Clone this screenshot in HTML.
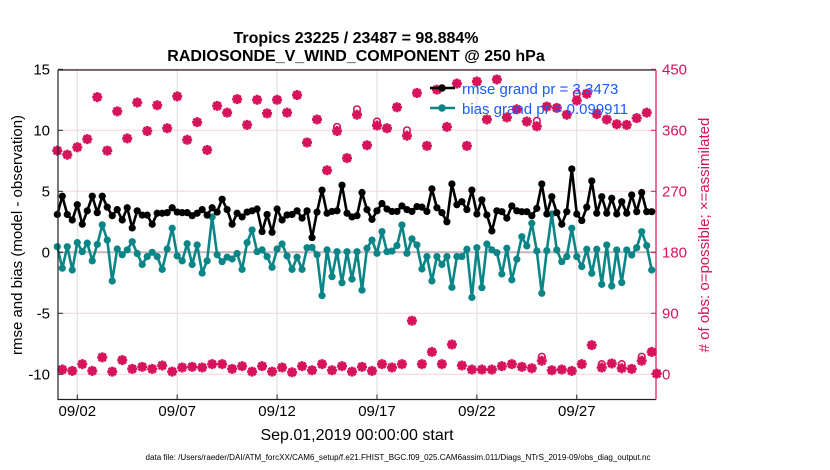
<!DOCTYPE html>
<html><head><meta charset="utf-8">
<style>
html,body{margin:0;padding:0;background:#fff;}
svg{display:block;font-family:"Liberation Sans",Arial,sans-serif;}
</style></head>
<body>
<svg id="chart" width="830" height="470" viewBox="0 0 830 470" xmlns="http://www.w3.org/2000/svg">
  <rect width="830" height="470" fill="#fff"/>
  <g id="grid"></g>
  <g id="series"></g>
  <g id="axes"></g>
  <text x="356" y="43" text-anchor="middle" font-size="16" font-weight="bold">Tropics 23225 / 23487 = 98.884%</text>
  <text x="356" y="61" text-anchor="middle" font-size="16" font-weight="bold">RADIOSONDE_V_WIND_COMPONENT @ 250 hPa</text>
  <text transform="translate(22,235) rotate(-90)" text-anchor="middle" font-size="15">rmse and bias (model - observation)</text>
  <text transform="translate(709,235) rotate(-90)" text-anchor="middle" font-size="15" fill="#d6135b"># of obs: o=possible; ×=assimilated</text>
  <text x="357" y="440" text-anchor="middle" font-size="16">Sep.01,2019 00:00:00 start</text>
  <text x="398" y="460" text-anchor="middle" font-size="8" textLength="505" lengthAdjust="spacingAndGlyphs">data file: /Users/raeder/DAI/ATM_forcXX/CAM6_setup/f.e21.FHIST_BGC.f09_025.CAM6assim.011/Diags_NTrS_2019-09/obs_diag_output.nc</text>
  <g id="legend">
    <line x1="430" y1="88" x2="455" y2="88" stroke="#000" stroke-width="2.5"/>
    <circle cx="442" cy="88" r="3.8" fill="#000"/>
    <text x="462" y="94" font-size="15" fill="#1a5cff">rmse grand pr = 3.3473</text>
    <line x1="430" y1="108" x2="455" y2="108" stroke="#0b8585" stroke-width="2.5"/>
    <circle cx="442" cy="108" r="3.8" fill="#0b8585"/>
    <text x="462" y="114" font-size="15" fill="#1a5cff">bias grand pr = 0.099911</text>
  </g>
</svg>
<script>
const rmse = [3.1,4.6,3.1,2.65,3.9,2.3,3.4,4.6,3.25,4.6,3.7,3.0,3.5,2.65,3.65,2.0,3.4,3.05,3.05,2.3,3.2,3.2,3.25,3.65,3.3,3.25,3.25,3.0,3.2,3.5,3.05,3.65,3.3,4.35,3.5,2.3,3.2,2.9,3.3,3.4,3.55,
 1.7,3.1,1.64,3.55,2.65,3.06,3.1,3.4,2.8,3.4,1.2,3.3,5.1,3.2,3.35,3.4,5.5,3.2,2.9,3.0,4.9,3.5,2.7,3.4,4.0,3.55,3.35,3.35,3.8,3.5,3.35,3.75,3.7,3.35,5.2,3.65,3.25,2.5,5.6,3.9,
 4.15,3.5,5.1,3.14,4.3,3.06,1.75,3.4,3.33,2.8,3.8,3.4,3.33,3.33,3.0,3.6,5.6,3.14,4.56,3.25,2.3,3.33,6.83,3.14,2.6,3.7,5.85,3.2,4.56,3.2,4.43,3.14,4.15,3.2,4.7,3.33,4.9,3.33,3.33];
const bias = [0.46,-1.3,0.46,-1.45,0.8,0.05,0.75,-0.7,0.65,2.25,1.0,-2.35,0.27,-0.2,0.2,0.87,-0.1,-1.0,-0.35,0,-0.35,-1.4,0.27,1.97,-0.3,-0.7,0.7,-1.0,0.6,-1.7,-0.7,2.9,-0.2,-0.77,-0.4,-0.55,-0.1,-1.4,0.8,1.83,0.05,
 0.2,-0.35,-1.23,0.27,0.68,-0.3,-1.4,-0.4,-1.4,0.38,0.4,-0.2,-3.55,0.2,-2.0,0.05,-2.5,0.05,-2.2,0.05,-3.1,0.33,1.0,-0.08,1.7,0.05,0.1,0.55,2.24,-0.08,1.1,0.6,-1.37,-0.35,-2.35,-0.35,-1.0,-0.35,-2.87,-0.35,
 -0.35,0.25,-3.7,0.38,-2.9,0.68,0.2,-0.03,-1.78,0.33,-2.26,-0.57,1.28,0.52,2.38,0.11,-3.36,0.14,3.14,0.19,-0.77,-0.35,1.97,-0.35,-1.17,0.25,-1.72,0.25,-2.63,0.6,-2.76,0.19,-2.48,0.19,-0.22,0.38,1.69,0.55,-1.45];
const obsHigh = [330,324,335,347,409,330,388,348,401,359,397,363,410,346,372,331,396,386,406,368,405,
 385,405,386,412,342,376,301,359,319,383,338,367,363,394,352,415,337,420,365,429,
 337,432,376,435,379,391,373,366,395,393,383,404,414,384,376,369,368,378,386,1];
const obsLow = [7,5,15,5,25,4,21,8,11,8,13,4,10,11,10,15,15,8,12,4,12,4,10,3,12,6,15,6,12,4,
 11,5,15,10,15,79,15,33,15,44,13,7,7,7,12,15,11,9,20,6,7,5,15,43,10,16,9,8,20,33];
const possibleExtraIdx = [56,60,64,70,96,104,117,97,109,113];
const possibleExtraVal = [6,8,6,8,8,10,6,6,5,6];
const xTickLabels = ["09/02","09/07","09/12","09/17","09/22","09/27"];
const xTickDays = [1,6,11,16,21,26];
const yTicksLeft = [-10,-5,0,5,10,15];
const yTicksRight = [0,90,180,270,360,450];

const NS="http://www.w3.org/2000/svg";
const PL=58, PR=656, PT=70, PB=399.5;
const x = d => 57.3 + 19.98*d;
const y = v => 252.3 - 12.2*v;
const yR = v => y((v-180)/18);
const tOf = i => i*0.25;
function el(tag, attrs, parent){const e=document.createElementNS(NS,tag);for(const k in attrs)e.setAttribute(k,attrs[k]);parent.appendChild(e);return e;}
const grid=document.getElementById('grid'), ser=document.getElementById('series'), ax=document.getElementById('axes');

xTickDays.forEach((d,k)=>{
  const g=el('line',{x1:x(d),x2:x(d),y1:PT,y2:PB,stroke:'#dcdcdc','stroke-width':1},grid);
  
  
});
yTicksRight.forEach(v=>{
  const g=el('line',{x1:PL,x2:PR,y1:yR(v),y2:yR(v),stroke:'#f3d3df','stroke-width':1},grid);
  
  
});
const z=el('line',{x1:PL,x2:PR,y1:y(0),y2:y(0),stroke:'#c8b4bc','stroke-width':2},grid);



const obsAssim=[];
for(let i=0;i<=120;i++){obsAssim.push(i%2===0?obsHigh[i/2]:obsLow[(i-1)/2]);}
const obsPossible=obsAssim.slice();
possibleExtraIdx.forEach((ix,k)=>{obsPossible[ix]+=possibleExtraVal[k];});
const RED='#d6135b';
obsAssim.forEach((v,i)=>{
  const cx=x(tOf(i)), cy=yR(v), s=5, d=3.6;
  const p=el('path',{d:`M${cx-s} ${cy}H${cx+s}M${cx} ${cy-s}V${cy+s}M${cx-d} ${cy-d}L${cx+d} ${cy+d}M${cx-d} ${cy+d}L${cx+d} ${cy-d}`,stroke:RED,'stroke-width':2.8,fill:'none'},ser);
  
  
});
obsPossible.forEach((v,i)=>{
  const c=el('circle',{cx:x(tOf(i)),cy:yR(v),r:3.3,stroke:RED,'stroke-width':1.6,fill:'none'},ser);
  
  
});

function line(arr,color,name){
  const pts=arr.map((v,i)=>x(tOf(i)).toFixed(1)+','+y(v).toFixed(1)).join(' ');
  const pl=el('polyline',{points:pts,fill:'none',stroke:color,'stroke-width':2.6,'stroke-linejoin':'round'},ser);
  
  
  arr.forEach((v,i)=>{
    const c=el('circle',{cx:x(tOf(i)),cy:y(v),r:3.6,fill:color},ser);
    
    
  });
}
line(bias,'#0b8585','bias');
line(rmse,'#000','rmse');

const fr=el('path',{d:`M${PL} ${PT}V${PB}H${PR}M${PL} ${PT}H${PR}`,stroke:'#222','stroke-width':1.2,fill:'none'},ax);


const ra=el('line',{x1:PR,x2:PR,y1:PT,y2:PB,stroke:RED,'stroke-width':1.2},ax);


xTickDays.forEach((d,k)=>{
  const t=el('line',{x1:x(d),x2:x(d),y1:PB,y2:PB-5,stroke:'#222'},ax);
  
  
  const tx=el('text',{x:x(d),y:416,'text-anchor':'middle','font-size':15},ax);
  
  
  tx.textContent=xTickLabels[k];
});
yTicksLeft.forEach(v=>{
  const t=el('line',{x1:PL,x2:PL+5,y1:y(v),y2:y(v),stroke:'#222'},ax);
  
  
  const tx=el('text',{x:50,y:y(v)+5,'text-anchor':'end','font-size':15},ax);
  
  
  tx.textContent=String(v);
});
yTicksRight.forEach(v=>{
  const t=el('line',{x1:PR-5,x2:PR,y1:yR(v),y2:yR(v),stroke:RED},ax);
  
  
  const tx=el('text',{x:662,y:yR(v)+5,'font-size':15,fill:RED},ax);
  
  
  tx.textContent=String(v);
});
</script>
</body></html>
